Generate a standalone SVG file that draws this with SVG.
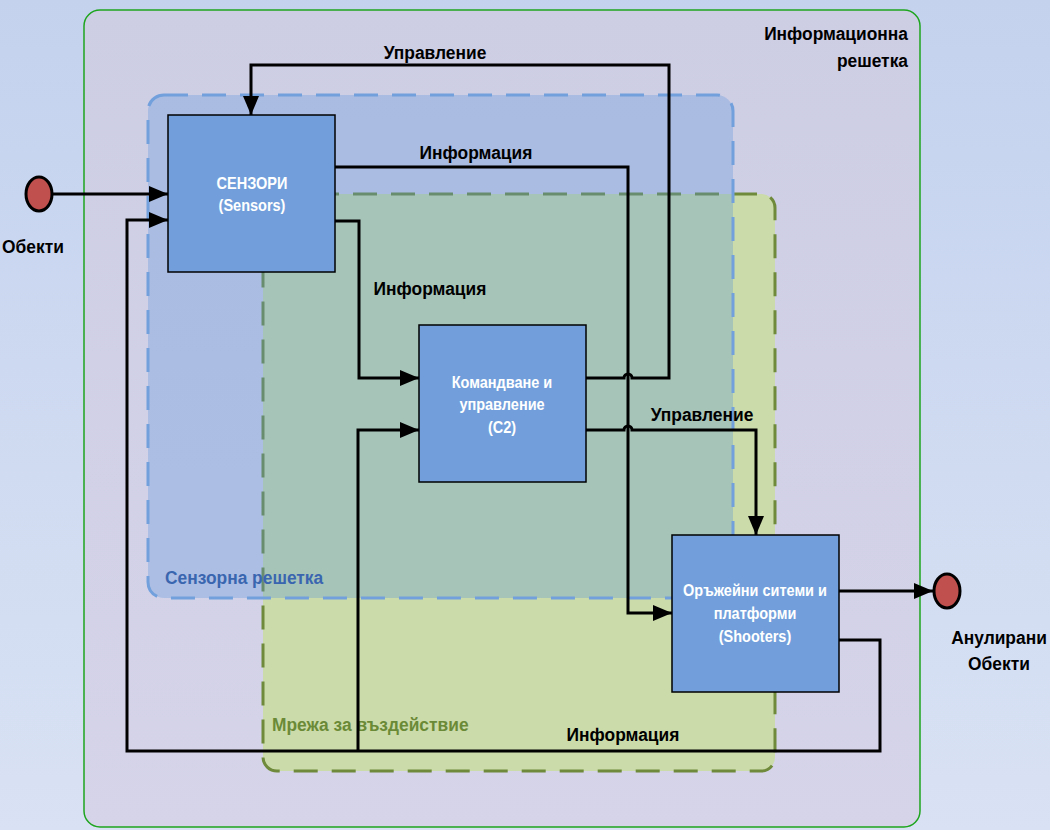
<svg xmlns="http://www.w3.org/2000/svg" width="1050" height="830" viewBox="0 0 1050 830">
<defs>
<linearGradient id="bg" x1="0" y1="0" x2="0" y2="1">
<stop offset="0" stop-color="#c4d2ee"/>
<stop offset="1" stop-color="#d9e2f4"/>
</linearGradient>
<linearGradient id="lav" x1="0" y1="0" x2="0" y2="1">
<stop offset="0" stop-color="#cdcde4"/>
<stop offset="1" stop-color="#d5d4e9"/>
</linearGradient>
<marker id="arr" markerUnits="userSpaceOnUse" markerWidth="20" markerHeight="16" refX="19" refY="8" orient="auto">
<path d="M0,0 L19,8 L0,16 Z" fill="#000"/>
</marker>
<style>
.lbl{font-family:"Liberation Sans",Arial,sans-serif;font-weight:bold;font-size:18.5px;fill:#000}
.ntx{font-family:"Liberation Sans",Arial,sans-serif;font-weight:bold;font-size:16.3px;fill:#fff}
.node{fill:#729fdb;stroke:#000;stroke-width:1.5}
.con{fill:none;stroke:#000;stroke-width:3}
.obj{fill:#c0504d;stroke:#000;stroke-width:3}
</style>
</defs>
<rect x="0" y="0" width="1050" height="830" fill="url(#bg)"/>
<g id="info-grid">
<rect x="84" y="10" width="836" height="817" rx="16" fill="url(#lav)" stroke="#1ea51e" stroke-width="1.5"/>
<text class="lbl" transform="translate(908,40) scale(0.94,1)" text-anchor="end">Информационна</text>
<text class="lbl" transform="translate(908,67) scale(0.94,1)" text-anchor="end">решетка</text>
</g>
<g id="engagement-grid">
<rect x="263" y="194" width="512" height="577" rx="14" fill="#cbdba9" stroke="#6e8a3a" stroke-width="3" stroke-dasharray="24 14"/>
<text class="lbl" transform="translate(272,731) scale(0.94,1)" style="fill:#6b8a37">Мрежа за въздействие</text>
</g>
<g id="sensor-grid">
<rect x="148" y="95" width="585" height="503" rx="16" fill="rgb(94,150,220)" fill-opacity="0.32" stroke="#72a0dc" stroke-width="3" stroke-dasharray="24 14"/>
<text class="lbl" transform="translate(165,584) scale(0.94,1)" style="fill:#3a66b0">Сензорна решетка</text>
</g>
<g id="connectors">
<path class="con" d="M52,194 H168" marker-end="url(#arr)"/>
<path class="con" d="M839,640 H880 V751 H127 V220 H168" marker-end="url(#arr)"/>
<path class="con" d="M358,751 V430 H419" marker-end="url(#arr)"/>
<path class="con" d="M586,378 H624 A4,4 0 0 1 632,378 H669 V65 H251 V115" marker-end="url(#arr)"/>
<path class="con" d="M335,167 H628 V613 H672" marker-end="url(#arr)"/>
<path class="con" d="M335,221 H359 V378 H419" marker-end="url(#arr)"/>
<path class="con" d="M586,430 H624 A4,4 0 0 1 632,430 H756 V535" marker-end="url(#arr)"/>
<path class="con" d="M839,591 H933" marker-end="url(#arr)"/>
<text class="lbl" transform="translate(435,59) scale(0.94,1)" text-anchor="middle">Управление</text>
<text class="lbl" transform="translate(476,159) scale(0.94,1)" text-anchor="middle">Информация</text>
<text class="lbl" transform="translate(430,295) scale(0.94,1)" text-anchor="middle">Информация</text>
<text class="lbl" transform="translate(702,421) scale(0.94,1)" text-anchor="middle">Управление</text>
<text class="lbl" transform="translate(623,741) scale(0.94,1)" text-anchor="middle">Информация</text>
</g>
<g id="objects">
<ellipse class="obj" cx="39" cy="194" rx="13" ry="17"/>
<text class="lbl" transform="translate(33,253) scale(0.94,1)" text-anchor="middle">Обекти</text>
</g>
<g id="annulled">
<ellipse class="obj" cx="947" cy="591" rx="13" ry="17"/>
<text class="lbl" transform="translate(999,644) scale(0.94,1)" text-anchor="middle">Анулирани</text>
<text class="lbl" transform="translate(999,670) scale(0.94,1)" text-anchor="middle">Обекти</text>
</g>
<g id="sensors">
<rect class="node" x="168" y="115" width="167" height="157"/>
<text class="ntx" transform="translate(252,189) scale(0.89,1)" text-anchor="middle">СЕНЗОРИ</text>
<text class="ntx" transform="translate(252,211) scale(0.89,1)" text-anchor="middle">(Sensors)</text>
</g>
<g id="c2">
<rect class="node" x="419" y="325" width="167" height="157"/>
<text class="ntx" transform="translate(502,388) scale(0.89,1)" text-anchor="middle">Командване и</text>
<text class="ntx" transform="translate(502,410) scale(0.89,1)" text-anchor="middle">управление</text>
<text class="ntx" transform="translate(502,433) scale(0.89,1)" text-anchor="middle">(C2)</text>
</g>
<g id="shooters">
<rect class="node" x="672" y="535" width="167" height="157"/>
<text class="ntx" transform="translate(755,596) scale(0.89,1)" text-anchor="middle">Оръжейни ситеми и</text>
<text class="ntx" transform="translate(755,619) scale(0.89,1)" text-anchor="middle">платформи</text>
<text class="ntx" transform="translate(755,642) scale(0.89,1)" text-anchor="middle">(Shooters)</text>
</g>
</svg>
